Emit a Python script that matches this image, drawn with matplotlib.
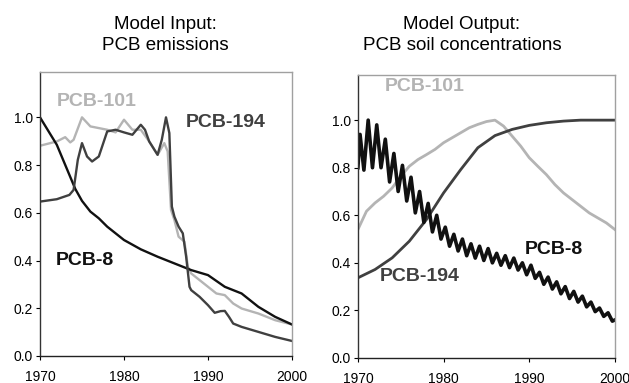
import matplotlib
matplotlib.use("Agg")
import matplotlib.pyplot as plt

plt.rcParams['font.family'] = ['Liberation Sans', 'DejaVu Sans']

# Model input: emissions (normalised)
in_pcb8_years = [1970, 1972, 1974.2, 1975, 1976, 1977, 1978, 1979, 1980, 1982, 1984,
                 1986, 1988, 1990, 1992, 1994, 1996, 1998, 2000]
in_pcb8_vals = [1.0, 0.885, 0.70, 0.65, 0.605, 0.577, 0.542, 0.514, 0.486, 0.447, 0.416,
                0.388, 0.36, 0.339, 0.29, 0.262, 0.206, 0.164, 0.132]

in_pcb101_years = [1970, 1972, 1973, 1973.6, 1974, 1975, 1976, 1978, 1979, 1980, 1981,
                   1982, 1983, 1984, 1984.8, 1985.2, 1985.6, 1986, 1986.5, 1987.2,
                   1987.6, 1988, 1989, 1990, 1991, 1992, 1993, 1994, 1996, 1998, 2000]
in_pcb101_vals = [0.881, 0.899, 0.917, 0.895, 0.906, 1.0, 0.962, 0.948, 0.937, 0.99, 0.948,
                  0.948, 0.899, 0.843, 0.892, 0.857, 0.612, 0.57, 0.50, 0.479,
                  0.374, 0.346, 0.318, 0.29, 0.262, 0.255, 0.22, 0.199, 0.178, 0.15, 0.132]

in_pcb194_years = [1970, 1972, 1973.5, 1974, 1974.5, 1975, 1975.6, 1976.2, 1977, 1978,
                   1979, 1980, 1981, 1982, 1982.5, 1983, 1984, 1984.5, 1985, 1985.4,
                   1985.7, 1986, 1986.5, 1987, 1987.4, 1987.8, 1988, 1988.5, 1989, 1990,
                   1990.8, 1991.5, 1992, 1992.5, 1993, 1994, 1996, 1998, 2000]
in_pcb194_vals = [0.647, 0.657, 0.675, 0.696, 0.822, 0.892, 0.836, 0.815, 0.836, 0.941,
                  0.948, 0.937, 0.927, 0.969, 0.948, 0.899, 0.843, 0.906, 1.0, 0.934,
                  0.626, 0.584, 0.542, 0.514, 0.416, 0.29, 0.276, 0.262, 0.248, 0.213,
                  0.181, 0.188, 0.189, 0.164, 0.136, 0.122, 0.101, 0.08, 0.063]

# Model output: soil concentrations (normalised)
out_pcb101_years = list(range(1970, 2001))
out_pcb101_vals = [0.54, 0.617, 0.652, 0.68, 0.715, 0.764, 0.806, 0.834, 0.855, 0.877,
                   0.905, 0.926, 0.947, 0.968, 0.982, 0.994, 1.0, 0.975, 0.933, 0.891,
                   0.842, 0.806, 0.771, 0.729, 0.694, 0.666, 0.638, 0.61, 0.589, 0.568, 0.54]

out_pcb194_years = [1970, 1972, 1974, 1976, 1978, 1980, 1982, 1984, 1986, 1988, 1990,
                    1992, 1994, 1996, 2000]
out_pcb194_vals = [0.337, 0.372, 0.421, 0.491, 0.582, 0.694, 0.792, 0.884, 0.935, 0.961,
                   0.978, 0.989, 0.996, 1.0, 1.0]

out_pcb8_years = [1970.0, 1970.25, 1970.7, 1971.2, 1971.7, 1972.2, 1972.7, 1973.2, 1973.7,
                  1974.2, 1974.7, 1975.2, 1975.7, 1976.2, 1976.7, 1977.2, 1977.7, 1978.2,
                  1978.7, 1979.2, 1979.7, 1980.2, 1980.7, 1981.2, 1981.7, 1982.2, 1982.7,
                  1983.2, 1983.7, 1984.2, 1984.7, 1985.2, 1985.7, 1986.2, 1986.7, 1987.2,
                  1987.7, 1988.2, 1988.7, 1989.2, 1989.7, 1990.2, 1990.7, 1991.2, 1991.7,
                  1992.2, 1992.7, 1993.2, 1993.7, 1994.2, 1994.7, 1995.2, 1995.7, 1996.2,
                  1996.7, 1997.2, 1997.7, 1998.2, 1998.7, 1999.2, 1999.7, 2000.0]
out_pcb8_vals = [0.80, 0.94, 0.79, 1.00, 0.80, 0.98, 0.80, 0.92, 0.74,
                 0.86, 0.70, 0.81, 0.66, 0.76, 0.61, 0.70, 0.57, 0.65,
                 0.53, 0.60, 0.50, 0.55, 0.47, 0.52, 0.45, 0.50, 0.43,
                 0.48, 0.42, 0.47, 0.41, 0.46, 0.40, 0.44, 0.39, 0.43,
                 0.38, 0.42, 0.37, 0.40, 0.35, 0.39, 0.335, 0.36, 0.31,
                 0.34, 0.29, 0.32, 0.27, 0.30, 0.25, 0.28, 0.235, 0.26,
                 0.215, 0.235, 0.195, 0.21, 0.175, 0.19, 0.155, 0.16]

x_ticks = [1970, 1980, 1990, 2000]
y_ticks = [0.0, 0.2, 0.4, 0.6, 0.8, 1.0]

c_light = '#b4b4b4'
c_dark = '#404040'
c_black = '#111111'

fig = plt.figure(figsize=(6.29, 3.83), dpi=100)
ax1 = fig.add_axes([0.0636, 0.0705, 0.4006, 0.7415])
ax2 = fig.add_axes([0.569, 0.0653, 0.4086, 0.739])

ax1.plot(in_pcb101_years, in_pcb101_vals, color=c_light, lw=1.7)
ax1.plot(in_pcb8_years, in_pcb8_vals, color=c_black, lw=1.7)
ax1.plot(in_pcb194_years, in_pcb194_vals, color=c_dark, lw=1.7)

ax2.plot(out_pcb101_years, out_pcb101_vals, color=c_light, lw=2.0)
ax2.plot(out_pcb194_years, out_pcb194_vals, color=c_dark, lw=2.0)
ax2.plot(out_pcb8_years, out_pcb8_vals, color=c_black, lw=2.6)

for ax in (ax1, ax2):
    ax.set_xlim(1970, 2000)
    ax.set_ylim(0, 1.19)
    ax.set_xticks(x_ticks)
    ax.set_yticks(y_ticks)
    ax.set_yticklabels(['%.1f' % v for v in y_ticks])
    ax.tick_params(axis='both', labelsize=10, direction='out', length=3, width=0.8,
                   colors='black')
    ax.tick_params(axis='x', pad=7)
    ax.tick_params(axis='y', pad=2)
    ax.spines['left'].set_color('#333333')
    ax.spines['bottom'].set_color('#222222')
    ax.spines['top'].set_color('#a0a0a0')
    ax.spines['right'].set_color('#a0a0a0')
    for s in ax.spines.values():
        s.set_linewidth(1.0)

lab = dict(fontsize=14, fontweight='bold', va='center', ha='left')
ax1.text(1972.0, 1.067, 'PCB-101', color=c_light, **lab)
ax1.text(1987.3, 0.98, 'PCB-194', color=c_dark, **lab)
ax1.text(1971.9, 0.40, 'PCB-8', color=c_black, **lab)

ax2.text(1973.1, 1.143, 'PCB-101', color=c_light, **lab)
ax2.text(1972.5, 0.343, 'PCB-194', color=c_dark, **lab)
ax2.text(1989.5, 0.456, 'PCB-8', color=c_black, **lab)

fig.text(165 / 629, 1 - 35 / 383, 'Model Input:\nPCB emissions', ha='center', va='center',
         fontsize=13.5, linespacing=1.25)
fig.text(462 / 629, 1 - 35 / 383, 'Model Output:\nPCB soil concentrations', ha='center',
         va='center', fontsize=13.5, linespacing=1.25)

fig.savefig('out.png', dpi=100)
